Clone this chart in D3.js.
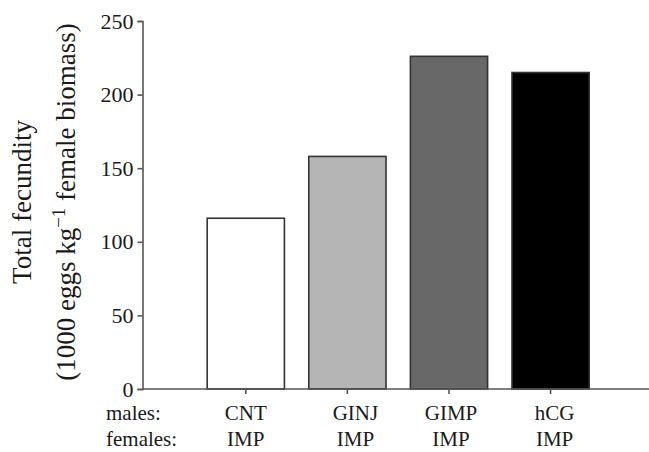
<!DOCTYPE html>
<html>
<head>
<meta charset="utf-8">
<script src="https://cdn.jsdelivr.net/npm/d3@7"></script>
<style>
  body { margin: 0; background: #fff; }
  text { font-family: "Liberation Serif", "Times New Roman", serif; fill: #1a1a1a; }
</style>
</head>
<body>
<script>
// values
var males = ["CNT", "GINJ", "GIMP", "hCG"];
var females = ["IMP", "IMP", "IMP", "IMP"];
var fecundity = [116, 158, 226, 215];
var fills = ["#ffffff", "#b5b5b5", "#686868", "#000000"];
var yTicks = [0, 50, 100, 150, 200, 250];

var width = 649, height = 452;
var axisX = 142.5, baseY = 389, topY = 21;

var svg = d3.select("body").append("svg")
    .attr("width", width)
    .attr("height", height);

var x = d3.scaleBand()
    .domain(males)
    .range([195, 601.4])
    .paddingInner(0.24)
    .paddingOuter(0.12);

var y = d3.scaleLinear()
    .domain([0, 250])
    .range([baseY, topY]);

// bars
svg.selectAll(".bar")
    .data(fecundity)
    .enter()
    .append("rect")
    .attr("class", "bar")
    .attr("x", (d, i) => x(males[i]))
    .attr("y", d => y(d))
    .attr("width", x.bandwidth())
    .attr("height", d => y(0) - y(d))
    .attr("fill", (d, i) => fills[i])
    .attr("stroke", "#333")
    .attr("stroke-width", 1.6);

// y axis
var yAxis = svg.append("g")
    .attr("transform", "translate(" + axisX + ",0)")
    .call(d3.axisLeft(y).tickValues(yTicks).tickSize(5).tickPadding(4));
yAxis.selectAll("text")
    .style("font-size", "22px")
    .attr("dy", "0.32em");

// x axis line runs to the right edge, ticks under the bars
var xAxis = svg.append("g")
    .attr("transform", "translate(0," + baseY + ")")
    .call(d3.axisBottom(x).tickSize(5).tickFormat(""));
xAxis.select(".domain")
    .attr("d", "M" + axisX + ",0H" + width);

svg.selectAll(".domain, .tick line")
    .attr("stroke", "#555")
    .attr("stroke-width", 1.6);

// row labels under the axis
var nudge = [0, 8, 2, 4];
var rows = [
    { name: "males:", vals: males, yy: 420 },
    { name: "females:", vals: females, yy: 446 }
];
rows.forEach(r => {
    svg.append("text")
        .attr("x", 106)
        .attr("y", r.yy)
        .style("font-size", "21px")
        .text(r.name);
    svg.selectAll(null)
        .data(r.vals)
        .enter()
        .append("text")
        .attr("x", (d, i) => x(males[i]) + x.bandwidth() / 2 + nudge[i])
        .attr("y", r.yy)
        .attr("text-anchor", "middle")
        .style("font-size", "21px")
        .text(d => d);
});

// y title, two lines
var midY = (baseY + topY) / 2 - 3;
svg.append("text")
    .attr("transform", "translate(31," + midY + ") rotate(-90)")
    .attr("text-anchor", "middle")
    .style("font-size", "27px")
    .text("Total fecundity");

var t2 = svg.append("text")
    .attr("transform", "translate(75," + midY + ") rotate(-90)")
    .attr("text-anchor", "middle")
    .style("font-size", "27px");
t2.append("tspan").text("(1000 eggs kg");
t2.append("tspan").attr("dy", "-0.55em").style("font-size", "19px").text("\u22121");
t2.append("tspan").attr("dy", "0.4em").text(" female biomass)");
</script>
</body>
</html>
